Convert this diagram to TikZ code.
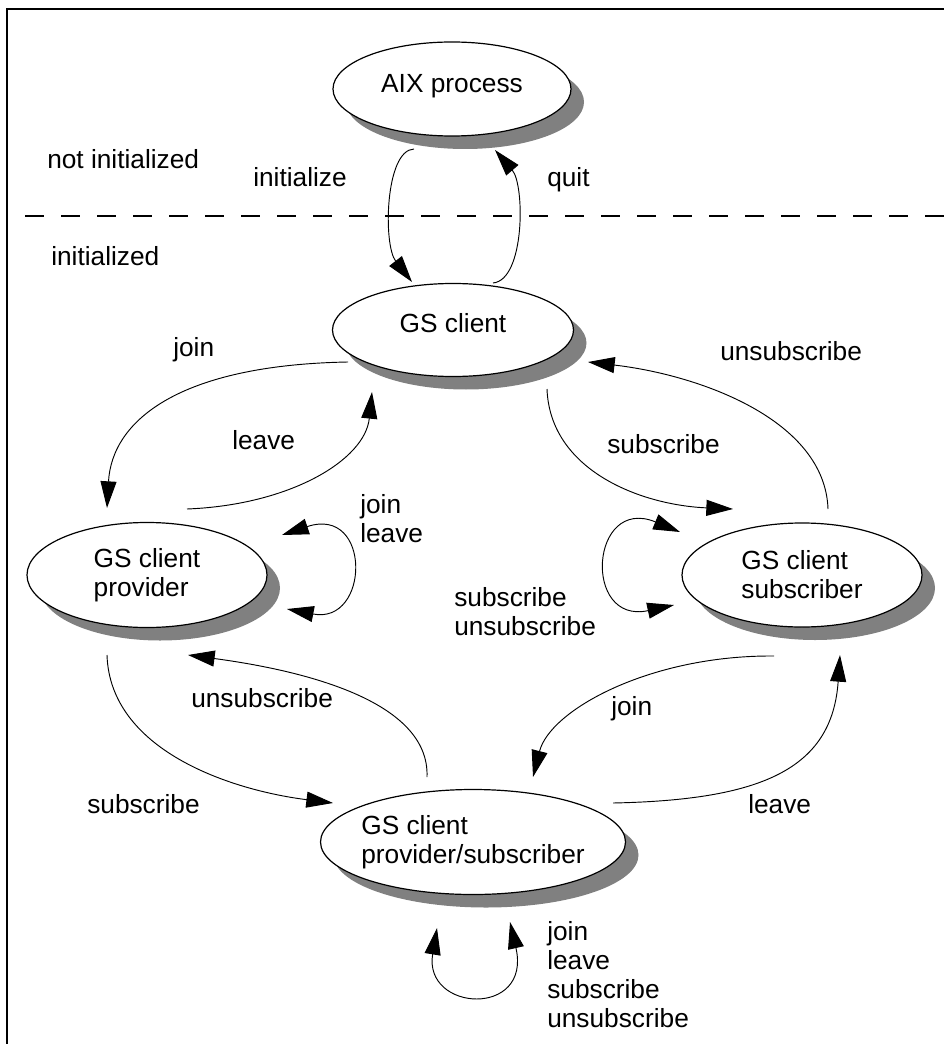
\documentclass[tikz,border=0pt]{standalone}
\usepackage{fontspec}
\setmainfont{Liberation Sans}
\usetikzlibrary{shapes.geometric,shadows,arrows.meta,calc}
\definecolor{shadowgray}{HTML}{808080}
\begin{document}
\begin{tikzpicture}[x=0.75pt,y=-0.75pt,
  every node/.style={font=\fontsize{19.7pt}{21.75pt}\selectfont},
  state/.style={ellipse, draw, fill=white, line width=0.9pt, inner sep=0pt, align=left,
    general shadow={shadow xshift=9.75pt, shadow yshift=-9.75pt, fill=shadowgray}},
  lbl/.style={anchor=base west, inner sep=0pt, align=left},
  trans/.style={line width=0.7pt, -{Triangle[length=20pt,width=12pt]}},
  selfloop/.style={line width=0.7pt, {Triangle[length=20pt,width=12pt]}-{Triangle[length=20pt,width=12pt]}},
]
\useasboundingbox (0,0) rectangle (944,1044);

% frame and the border between the two regions
\draw[line width=1.5pt] (7,1044) -- (7,9) -- (944,9);
\draw[line width=1.4pt, dash pattern=on 14pt off 13pt] (25,216) -- (944,216);

% states
\node[state, minimum width=178.5pt, minimum height=70.5pt, text height=14pt, text depth=8pt] (aix) at (452,89) {AIX process};
\node[state, minimum width=180.75pt, minimum height=69.75pt, text height=14pt, text depth=9.5pt] (gs) at (453,330) {GS client};
\node[state, minimum width=180pt, minimum height=78.75pt] (prov) at (147,575) {GS client\\provider};
\node[state, minimum width=180pt, minimum height=78pt] (subs) at (802,575) {GS client\\subscriber};
\node[state, minimum width=228.75pt, minimum height=78.75pt, inner xsep=-6pt] (ps) at (473,842) {GS client\\provider/subscriber};

% region and transition labels (multi-line ones are anchored at their last line)
\node[lbl] (notinit) at (47,169) {not initialized};
\node[lbl] (inited) at (51,266) {initialized};
\node[lbl] (l-init) at (253,187) {initialize};
\node[lbl] (l-quit) at (547,187) {quit};
\node[lbl] (l-join1) at (173,357) {join};
\node[lbl] (l-leave1) at (232,449) {leave};
\node[lbl] (l-provloop) at (360,542) {join\\leave};
\node[lbl] (l-unsub1) at (720,360) {unsubscribe};
\node[lbl] (l-sub1) at (607,453) {subscribe};
\node[lbl] (l-subsloop) at (454,635) {subscribe\\unsubscribe};
\node[lbl] (l-unsub2) at (191,707) {unsubscribe};
\node[lbl] (l-sub2) at (87,813) {subscribe};
\node[lbl] (l-join2) at (611,715) {join};
\node[lbl] (l-leave2) at (748,813) {leave};
\node[lbl] (l-psloop) at (547,1027) {join\\leave\\subscribe\\unsubscribe};

% transitions
\draw[trans] ($(aix.center)+(-38,60)$) .. controls (385,150) and (383,245) .. ($(gs.center)+(-41,-48)$);
\draw[trans] ($(gs.center)+(40,-47)$) .. controls (525,280) and (525,185) .. ($(aix.center)+(43,61)$);
\draw[trans] ($(gs.center)+(-105,32)$) .. controls (180,365) and (112,420) .. ($(prov.center)+(-40,-67)$);
\draw[trans] ($(prov.center)+(40,-66)$) .. controls (290,505) and (365,460) .. ($(gs.center)+(-81,62)$);
\draw[trans] ($(gs.center)+(94,59)$) .. controls (550,470) and (640,505) .. ($(subs.center)+(-69,-66)$);
\draw[trans] ($(subs.center)+(26,-66)$) .. controls (825,420) and (700,375) .. ($(gs.center)+(135,32)$);
\draw[selfloop] ($(prov.center)+(135,-40)$) .. controls (372,505) and (370,625) .. ($(prov.center)+(140,34)$);
\draw[selfloop] ($(subs.center)+(-122,-43)$) .. controls (590,495) and (582,625) .. ($(subs.center)+(-128,30)$);
\draw[trans] ($(ps.center)+(-46,-65)$) .. controls (430,700) and (300,670) .. ($(prov.center)+(41,80)$);
\draw[trans] ($(prov.center)+(-40,80)$) .. controls (110,750) and (230,790) .. ($(ps.center)+(-140,-39)$);
\draw[trans] ($(subs.center)+(-28,81)$) .. controls (650,655) and (550,710) .. ($(ps.center)+(60,-65)$);
\draw[trans] ($(ps.center)+(140,-39)$) .. controls (760,800) and (832,770) .. ($(subs.center)+(38,80)$);
\draw[selfloop] ($(ps.center)+(-36,86)$) .. controls (423,1012) and (532,1018) .. ($(ps.center)+(37,80)$);
\end{tikzpicture}
\end{document}
